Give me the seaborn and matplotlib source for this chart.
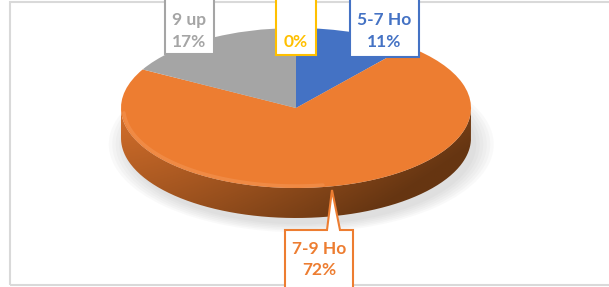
import numpy as np
import matplotlib
matplotlib.use("Agg")
import matplotlib.pyplot as plt
import seaborn as sns
from matplotlib.patches import Rectangle, Polygon, PathPatch, Ellipse
from matplotlib.path import Path

# data (Excel order: clockwise from 12 o'clock)
categories = ["5-7 Ho", "7-9 Ho", "9 up", ""]
shares = [11, 72, 17, 0]
colors = ["#4472C4", "#ED7D31", "#A5A5A5", "#FFC000"]

sns.set_theme(style="white")
plt.rcParams['font.family'] = ['Lato', 'DejaVu Sans']

W, H = 609, 287
fig = plt.figure(figsize=(W / 100, H / 100), dpi=100)
ax = fig.add_axes([0, 0, 1, 1])
ax.axis('off')

# ellipse geometry of the top face, in pixels
cx, cy, a, b = 296, 108, 175, 80
depth = 30 / b


def fig_xy(px, py):
    return px / W, 1 - py / H


# soft shadow under the disc
for s in np.linspace(1.10, 1.0, 6):
    ax.add_patch(Ellipse((0.03, -depth - 0.08), 2 * s, 2 * s, color="#808080",
                         alpha=0.045, lw=0, zorder=1))

# side wall of the disc, with a gradient
th = np.linspace(np.pi, 2 * np.pi, 200)
top_edge = np.column_stack([np.cos(th), np.sin(th)])
bot_edge = np.column_stack([np.cos(th[::-1]), np.sin(th[::-1]) - depth])
side = PathPatch(Path(np.vstack([top_edge, bot_edge])), facecolor="none",
                 edgecolor="none", zorder=2)
ax.add_patch(side)

nx, ny = 300, 60
gx = np.linspace(0, 1, nx)[None, :]
gy = np.linspace(0, 1, ny)[:, None]  # 0 = top of wall, 1 = bottom
light = np.array([0.88, 0.46, 0.18])
dark = np.array([0.40, 0.21, 0.07])
t = np.clip(0.10 + 0.75 * gx ** 1.4 + 0.45 * gy, 0, 1)
img = light[None, None, :] * (1 - t[..., None]) + dark[None, None, :] * t[..., None]
im = ax.imshow(img, extent=(-1, 1, -1 - depth, 0), origin="upper",
               aspect="auto", zorder=2, interpolation="bilinear")
im.set_clip_path(side)

# top face
wedges, _ = ax.pie(shares, colors=colors, startangle=90, counterclock=False,
                   radius=1, center=(0, 0), wedgeprops=dict(linewidth=0))
for w in wedges:
    w.set_zorder(3)

# subtle bevel highlight along the front rim
th2 = np.linspace(np.pi * 1.02, np.pi * 1.55, 100)
ax.plot(0.985 * np.cos(th2), 0.975 * np.sin(th2), color="#F6A36A", lw=2.5,
        alpha=0.35, zorder=4, solid_capstyle="round")

ax.set_aspect('auto')
ax.set_xlim((0 - cx) / a, (W - cx) / a)
ax.set_ylim((cy - H) / b, (cy - 0) / b)

# data labels
pct = [f"{v}%" for v in shares]
label_specs = [
    # (text, color, box x0, x1, y0, y1, text x)
    (f"{categories[2]}\n{pct[2]}", colors[2], 165, 214, -5, 54, 189.5),
    (pct[3], colors[3], 276, 316, -5, 55, 296),
    (f"{categories[0]}\n{pct[0]}", colors[0], 350, 419, -5, 57, 384.5),
]
for txt, col, x0, x1, y0, y1, tx in label_specs:
    (fx0, fy1), (fx1, fy0) = fig_xy(x0, y1), fig_xy(x1, y0)
    fig.patches.append(Rectangle((fx0, fy1), fx1 - fx0, fy0 - fy1,
                                 transform=fig.transFigure, facecolor="white",
                                 edgecolor=col, lw=1.5, zorder=6))
    lines = txt.split("\n")
    ys = [42] if len(lines) == 1 else [20, 42]
    for line, yy in zip(lines, ys):
        fig.text(*fig_xy(tx, yy), line, color=col, fontsize=12.5,
                 fontweight="bold", ha="center", va="center", zorder=7)

# callout for the big slice
pts = [(285, 295), (285, 230), (327, 230), (332, 190), (340, 230), (353, 230),
       (353, 295)]
fig.patches.append(Polygon([fig_xy(*p) for p in pts], closed=True,
                           transform=fig.transFigure, facecolor="white",
                           edgecolor=colors[1], lw=1.5, zorder=6))
for line, yy in zip([categories[1], pct[1]], [249, 270]):
    fig.text(*fig_xy(319, yy), line, color=colors[1], fontsize=12.5,
             fontweight="bold", ha="center", va="center", zorder=7)

# chart frame (right edge runs off the picture)
(bx0, by1), (bx1, by0) = fig_xy(10, 285), fig_xy(620, 2)
fig.patches.append(Rectangle((bx0, by1), bx1 - bx0, by0 - by1,
                             transform=fig.transFigure, fill=False,
                             edgecolor="#D9D9D9", lw=1.5, zorder=0))

fig.savefig("out.png", dpi=100)
